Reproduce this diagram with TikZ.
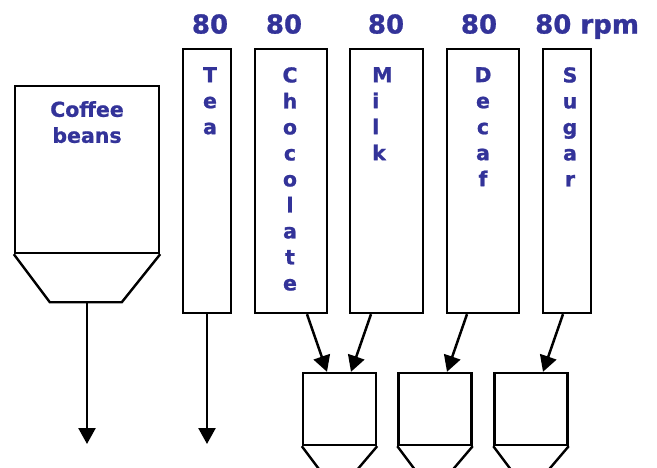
\documentclass[tikz,border=0pt]{standalone}
\usepackage{fontspec}
\setmainfont{DejaVu Sans}[BoldFeatures={FakeBold=1}]
\usetikzlibrary{arrows.meta,calc}
\definecolor{canblue}{RGB}{51,51,153}

\begin{document}
\begin{tikzpicture}[x=1pt, y=-1pt,
  binbox/.style={draw, line width=2.4pt, inner sep=0pt},
  canister/.style={binbox, minimum width=#1, minimum height=264pt},
  mixer/.style={binbox, minimum width=73pt, minimum height=72pt},
  funnel/.style={line width=2.4pt},
  letters/.style={text=canblue, font=\fontsize{20.5}{26}\selectfont\bfseries, align=center, inner sep=0pt, anchor=north},
  speed/.style={text=canblue, font=\fontsize{26}{30}\selectfont\bfseries, inner sep=0pt, anchor=north},
  flow/.style={-{Triangle[length=16pt,width=17pt]}, line width=2.5pt}]
\useasboundingbox (0,0) rectangle (657,467);

% coffee bean hopper
\node[binbox, minimum width=144pt, minimum height=167pt] (beans) at (87,169.5) {};
\draw[funnel] (beans.south west) -- ++(36,48) -- ++(72,0) -- (beans.south east);
\coordinate (beansout) at ($(beans.south)+(0,48)$);
\coordinate (beansend) at (87,444);
\node[letters] (beanstext) at (87,101) {Coffee\\beans};

% ingredient canisters
\node[canister=48pt] (tea) at (207,181) {};
\node[canister=72pt] (choc) at (291,181) {};
\node[canister=73pt] (milk) at (386.5,181) {};
\node[canister=72pt] (decaf) at (483,181) {};
\node[canister=48pt] (sugar) at (567,181) {};

\node[letters] (teatext) at (210,67) {T\\e\\a};
\node[letters] (choctext) at (290,67) {C\\h\\o\\c\\o\\l\\a\\t\\e};
\node[letters, anchor=north west, align=left] (milktext) at (372,67) {M\\i\\l\\k};
\node[letters] (decaftext) at (483,67) {D\\e\\c\\a\\f};
\node[letters] (sugartext) at (570,67) {S\\u\\g\\a\\r};

% motor speeds
\node[speed] (teaspeed) at (210,14) {80};
\node[speed] (chocspeed) at (284,14) {80};
\node[speed] (milkspeed) at (386,14) {80};
\node[speed] (decafspeed) at (479,14) {80};
\node[speed, anchor=north west] (sugarspeed) at (535,14) {80 rpm};

% mixing bowls
\foreach \name/\cx in {mixa/339.5, mixb/435, mixc/531} {
  \node[mixer] (\name) at (\cx,409) {};
  \draw[funnel] (\name.south west) -- ++(18,24) -- ++(37,0) -- (\name.south east);
}

\coordinate (teaend) at (207,444);

\draw[flow] (beansout) -- (beansend);
\draw[flow] (tea.south) -- (teaend);
\draw[flow] ([xshift=16pt]choc.south) -- ([xshift=-12.5pt]mixa.north);
\draw[flow] ([xshift=-15.5pt]milk.south) -- ([xshift=11.5pt]mixa.north);
\draw[flow] ([xshift=-16pt]decaf.south) -- ([xshift=12pt]mixb.north);
\draw[flow] ([xshift=-4pt]sugar.south) -- ([xshift=12pt]mixc.north);
\end{tikzpicture}
\end{document}
